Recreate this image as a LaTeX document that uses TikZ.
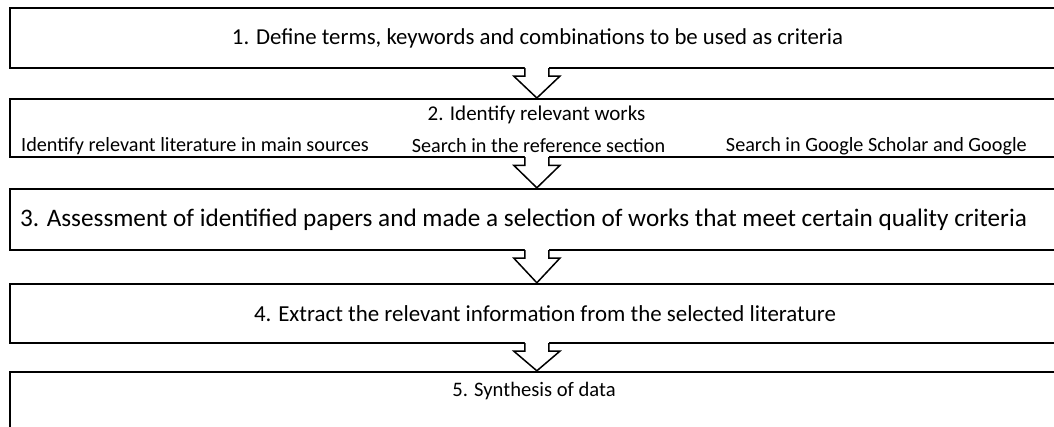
\documentclass[tikz,border=0pt]{standalone}
\usepackage{fontspec}
\setmainfont{Carlito}
\usetikzlibrary{calc}
\tikzset{
  stagebox/.style={draw, line width=2.4pt, inner sep=0pt, minimum width=1054.3pt},
  stagetext/.style={inner sep=0pt},
  subtext/.style={inner sep=0pt, font=\fontsize{20.2}{24}\selectfont},
  arrowline/.style={line width=1.5pt, line join=miter}
}
\newcommand{\flowarrow}[2]{%
  \fill[white] let \p1=(#1.south), \p2=(#2.north) in
    (\x1-12pt,\y1+3pt) -- (\x1-12pt,\y1-7pt) -- (\x1-23pt,\y1-7pt) -- (\x2,\y2)
    -- (\x1+23pt,\y1-7pt) -- (\x1+12pt,\y1-7pt) -- (\x1+12pt,\y1+3pt) -- cycle;
  \draw[arrowline] let \p1=(#1.south), \p2=(#2.north) in
    (\x1-12pt,\y1+1.2pt) -- (\x1-12pt,\y1-7pt) -- (\x1-23pt,\y1-7pt) -- (\x2,\y2)
    -- (\x1+23pt,\y1-7pt) -- (\x1+12pt,\y1-7pt) -- (\x1+12pt,\y1+1.2pt);
}
\begin{document}
\begin{tikzpicture}[x=1pt,y=-1pt]
\useasboundingbox (0,0) rectangle (1054,426);
\clip (0,0) rectangle (1054,426);
\fill[white] (0,0) rectangle (1054,426);
% boxes
\node[stagebox, minimum height=60pt] (b1) at (536.85,38) {};
\node[stagebox, minimum height=58pt] (b2) at (536.85,128.2) {};
\node[stagebox, minimum height=61pt] (b3) at (536.85,219.5) {};
\node[stagebox, minimum height=59pt] (b4) at (536.85,313.5) {};
\node[stagebox, minimum height=68pt] (b5) at (536.85,406) {};
% texts
\node[stagetext, font=\fontsize{22.8}{27}\selectfont] (t1) at (537.5,38.5) {1. Define terms, keywords and combinations to be used as criteria};
\node[stagetext, font=\fontsize{21}{25}\selectfont] (t2) at (536.5,114.5) {2. Identify relevant works};
\node[subtext, anchor=west] (t2a) at (21,146) {Identify relevant literature in main sources};
\node[subtext] (t2b) at (538.5,146) {Search in the reference section};
\node[subtext, anchor=east] (t2c) at (1027,146) {Search in Google Scholar and Google};
\node[stagetext, font=\fontsize{25.2}{30}\selectfont] (t3) at (523.5,220) {3. Assessment of identified papers and made a selection of works that meet certain quality criteria};
\node[stagetext, font=\fontsize{22.9}{27}\selectfont] (t4) at (545,313.5) {4. Extract the relevant information from the selected literature};
\node[stagetext, font=\fontsize{20.6}{25}\selectfont] (t5) at (534,391) {5. Synthesis of data};
% arrows
\flowarrow{b1}{b2}
\flowarrow{b2}{b3}
\flowarrow{b3}{b4}
\flowarrow{b4}{b5}
\end{tikzpicture}
\end{document}
